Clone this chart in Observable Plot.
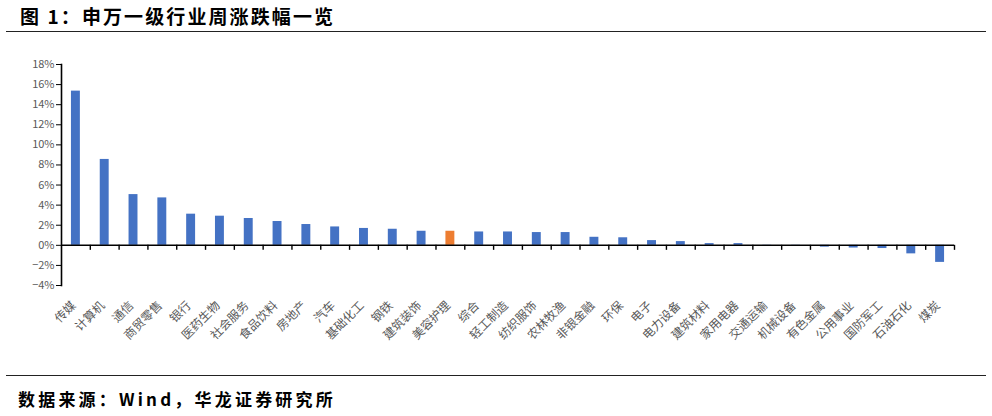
<!DOCTYPE html>
<html><head><meta charset="utf-8">
<script src="https://cdn.jsdelivr.net/npm/d3@7"></script>
<script src="https://cdn.jsdelivr.net/npm/@observablehq/plot@0.6"></script>
<style>
body{margin:0;background:#fff;width:992px;height:416px;overflow:hidden;position:relative;font-family:"Noto Sans CJK SC",sans-serif;}
#title{position:absolute;left:20px;top:2px;font-size:19px;font-weight:bold;letter-spacing:2.1px;color:#000;white-space:nowrap;}
#rule1{position:absolute;left:6px;right:6px;top:31px;border-top:1.5px solid #222;}
#chart{position:absolute;left:0;top:40px;}
#rule2{position:absolute;left:6px;right:6px;top:375px;border-top:1.5px solid #222;}
#source{position:absolute;left:18px;top:386px;font-size:17px;font-weight:bold;letter-spacing:3.2px;color:#000;white-space:nowrap;}
</style></head>
<body>
<div id="title">图 1：申万一级行业周涨跌幅一览</div>
<div id="rule1"></div>
<div id="chart"></div>
<div id="rule2"></div>
<div id="source">数据来源：Wind，华龙证券研究所</div>
<script>
const industries = ["传媒","计算机","通信","商贸零售","银行","医药生物","社会服务","食品饮料","房地产","汽车","基础化工","钢铁","建筑装饰","美容护理","综合","轻工制造","纺织服饰","农林牧渔","非银金融","环保","电子","电力设备","建筑材料","家用电器","交通运输","机械设备","有色金属","公用事业","国防军工","石油石化","煤炭"];
const changes = [15.35,8.55,5.05,4.72,3.1,2.9,2.67,2.37,2.07,1.83,1.68,1.6,1.4,1.4,1.33,1.33,1.27,1.27,0.8,0.75,0.47,0.37,0.17,0.17,0.02,-0.02,-0.18,-0.27,-0.32,-0.85,-1.7];
const highlight = "美容护理";
const yTicks = [-4,-2,0,2,4,6,8,10,12,14,16,18];
const blue = "#4472C4", orange = "#ED7D31";

const data = industries.map((name, i) => ({name, value: changes[i]}));
const W = 992, H = 330, ML = 61, MR = 38, MT = 24, MB = 85;
const step = (W - ML - MR) / industries.length;
const inset = step * 0.345;
const pct = d => (d < 0 ? "\u2212" + (-d) : "" + d) + "%";

const chart = Plot.plot({
  width: W, height: H,
  marginLeft: ML, marginRight: MR, marginTop: MT, marginBottom: MB,
  style: {fontFamily: '"Noto Sans CJK SC", sans-serif', background: "transparent"},
  x: {domain: industries, padding: 0, round: false, label: null},
  y: {domain: [-4, 18], label: null},
  marks: [
    Plot.barY(data, {x: "name", y: "value", insetLeft: inset, insetRight: inset, fill: d => d.name === highlight ? orange : blue}),
    Plot.ruleY([0], {stroke: "#000", strokeWidth: 1.6}),
    Plot.ruleX(industries, {x: d => d, dx: step / 2, y1: 0, y2: -0.5, stroke: "#000", strokeWidth: 1.4}),
    Plot.frame({anchor: "left", stroke: "#000", strokeWidth: 1.6}),
    Plot.axisY(yTicks, {tickFormat: pct, tickSize: 5, tickPadding: 2, fontSize: 11, stroke: "#000", fill: "#595959", label: null}),
    Plot.axisX({tickRotate: -45, tickSize: 0, tickPadding: 18, dx: -2, fontSize: 12, fill: "#595959", label: null})
  ]
});
document.getElementById("chart").appendChild(chart);
</script>
</body></html>
